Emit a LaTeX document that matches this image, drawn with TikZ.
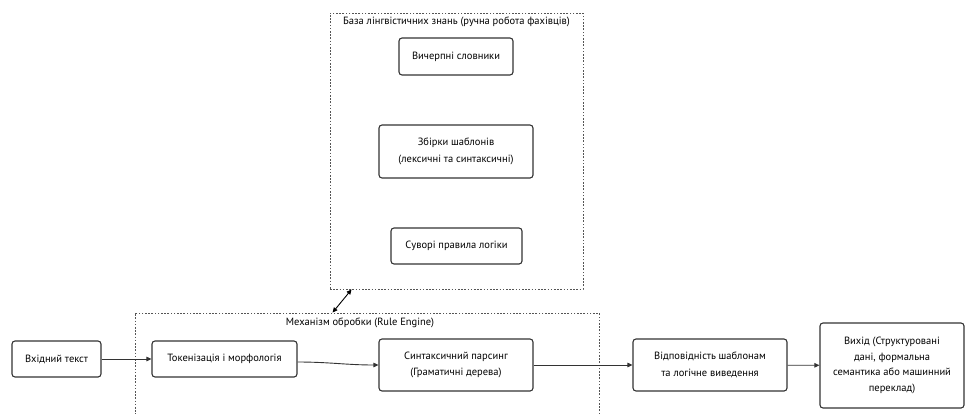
\documentclass[tikz,border=0pt]{standalone}
\usepackage{fontspec}
\setmainfont{PT Sans}
\usetikzlibrary{arrows.meta}
\definecolor{edge}{HTML}{333333}
\definecolor{clus}{HTML}{555555}
\tikzset{
  proc/.style={draw=edge, line width=1.1pt, rounded corners=3pt, fill=white, align=center,
    inner sep=0pt, font=\fontsize{10.5}{16.5}\selectfont, text=black},
  clusterbox/.style={draw=clus, line width=0.9pt, dash pattern=on 1.6pt off 1.6pt, inner sep=0pt},
  flow/.style={draw=edge, line width=0.9pt, -{Triangle[length=5pt,width=4.5pt]}},
  both/.style={draw=black, line width=0.9pt, {Triangle[length=5pt,width=4.5pt]}-{Triangle[length=5pt,width=4.5pt]}},
  clabel/.style={font=\fontsize{10.5}{12}\selectfont, text=black, inner sep=0pt}
}
\begin{document}
\begin{tikzpicture}[x=1pt,y=-1pt]
\useasboundingbox (0,0) rectangle (966,413);
\clip (0,0) rectangle (966,413);
\fill[white] (0,0) rectangle (966,413);
% clusters
\node[clusterbox, minimum width=253pt, minimum height=276pt] (kb) at (456.5,151) {};
\node[clabel] (kbl) at (456.5,22) {База лінгвістичних знань (ручна робота фахівців)};
\node[clusterbox, minimum width=464pt, minimum height=130pt] (eng) at (367,378) {};
\node[clabel] (engl) at (360,323) {Механізм обробки (Rule Engine)};
% knowledge nodes
\node[proc, minimum width=114pt, minimum height=37pt] (dict) at (456,56.5) {Вичерпні словники};
\node[proc, minimum width=154pt, minimum height=53pt] (tmpl) at (456,151.5) {Збірки шаблонів\\(лексичні та синтаксичні)};
\node[proc, minimum width=131pt, minimum height=36pt] (logic) at (456.5,246) {Суворі правила логіки};
% pipeline nodes
\node[proc, minimum width=89pt, minimum height=36pt] (in) at (56.5,359) {Вхідний текст};
\node[proc, minimum width=145pt, minimum height=36pt] (tok) at (224.5,359) {Токенізація і морфологія};
\node[proc, minimum width=154pt, minimum height=52pt] (syn) at (456,365) {Синтаксичний парсинг\\(Граматичні дерева)};
\node[proc, minimum width=154pt, minimum height=52pt] (match) at (710,365) {Відповідність шаблонам\\та логічне виведення};
\node[proc, minimum width=144pt, minimum height=85pt, font=\fontsize{10.5}{15.5}\selectfont] (out) at (892,365.5) {Вихід (Структуровані\\дані, формальна\\семантика або машинний\\переклад)};
% connectors
\draw[flow] (in) -- (tok);
\draw[flow] ([yshift=-3pt]tok.east) to[out=0,in=180] (syn.west);
\draw[flow] (syn) -- (match);
\draw[flow] (match) -- (out);
\draw[both] ([xshift=198pt]eng.north west) -- ([xshift=22pt]kb.south west);
\end{tikzpicture}
\end{document}
